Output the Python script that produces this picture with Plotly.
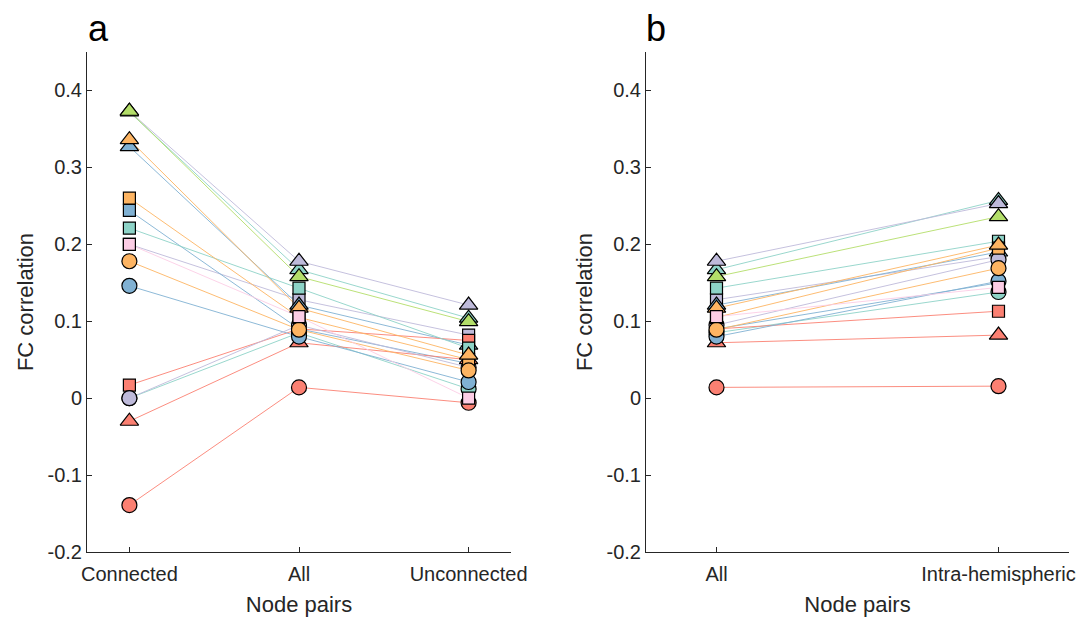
import plotly.graph_objects as go

# ---- data (bottom-to-top drawing order) ----
series_color = ["#8DD3C7", "#BEBADA", "#B3DE69", "#BEBADA", "#80B1D3", "#8DD3C7",
                "#80B1D3", "#FB8072", "#FB8072", "#FB8072", "#80B1D3", "#8DD3C7",
                "#BEBADA", "#FDB462", "#FDB462", "#FDB462", "#FCCDE5"]
series_symbol = ["triangle-up", "triangle-up", "triangle-up", "square", "triangle-up", "circle",
                 "square", "triangle-up", "square", "circle", "circle", "square",
                 "circle", "square", "triangle-up", "circle", "square"]
connected =   [0.372, 0.373, 0.373, 0.200, 0.327, 0.000, 0.244, -0.030, 0.017, -0.139, 0.146, 0.221,
               0.000, 0.260, 0.336, 0.178, 0.200]
all_pairs =   [0.167, 0.178, 0.158, 0.128, 0.121, 0.085, 0.090, 0.072, 0.090, 0.014, 0.080, 0.143,
               0.095, 0.105, 0.117, 0.089, 0.106]
unconnected = [0.104, 0.121, 0.0995, 0.082, 0.069, 0.012, 0.045, 0.050, 0.075, -0.006, 0.021, 0.065,
               0.040, 0.050, 0.056, 0.036, 0.000]
intra =       [0.257, 0.253, 0.236, 0.184, 0.190, 0.138, 0.150, 0.082, 0.113, 0.0156, 0.152, 0.204,
               0.180, 0.195, 0.199, 0.169, 0.144]

cats_a = ["Connected", "All", "Unconnected"]
cats_b = ["All", "Intra-hemispheric"]
y_ticks = [-0.2, -0.1, 0, 0.1, 0.2, 0.3, 0.4]
y_tick_text = ["-0.2", "-0.1", "0", "0.1", "0.2", "0.3", "0.4"]

sizes = {"circle": 15, "square": 12, "triangle-up": 16}
FONT = "Liberation Sans, Arial, Helvetica, sans-serif"
AX = "#262626"

fig = go.Figure()
xa = list(range(1, len(cats_a) + 1))
xb = list(range(1, len(cats_b) + 1))

# lines first
for i, c in enumerate(series_color):
    fig.add_trace(go.Scatter(x=xa, y=[connected[i], all_pairs[i], unconnected[i]],
                             mode="lines", line=dict(color=c, width=0.9),
                             xaxis="x", yaxis="y", showlegend=False, hoverinfo="skip"))
    fig.add_trace(go.Scatter(x=xb, y=[all_pairs[i], intra[i]],
                             mode="lines", line=dict(color=c, width=0.9),
                             xaxis="x2", yaxis="y2", showlegend=False, hoverinfo="skip"))
# markers
for i, c in enumerate(series_color):
    mk = dict(color=c, symbol=series_symbol[i], size=sizes[series_symbol[i]],
              line=dict(color="black", width=1.2))
    fig.add_trace(go.Scatter(x=xa, y=[connected[i], all_pairs[i], unconnected[i]],
                             mode="markers", marker=mk, xaxis="x", yaxis="y", showlegend=False))
    fig.add_trace(go.Scatter(x=xb, y=[all_pairs[i], intra[i]],
                             mode="markers", marker=mk, xaxis="x2", yaxis="y2", showlegend=False))

common_x = dict(showline=True, linecolor=AX, linewidth=1, ticks="inside", ticklen=5,
                tickcolor=AX, showgrid=False, zeroline=False, automargin=False,
                ticklabelstandoff=4,
                tickfont=dict(family=FONT, size=20, color=AX),
                title=dict(text="Node pairs", font=dict(family=FONT, size=22, color=AX), standoff=12))
common_y = dict(showline=True, linecolor=AX, linewidth=1, ticks="inside", ticklen=5,
                tickcolor=AX, showgrid=False, zeroline=False, range=[-0.2, 0.45], automargin=False,
                tickvals=y_ticks, ticktext=y_tick_text,
                tickfont=dict(family=FONT, size=20, color=AX),
                title=dict(text="FC correlation", font=dict(family=FONT, size=22, color=AX), standoff=7))

fig.update_layout(
    width=1085, height=620,
    margin=dict(l=0, r=0, t=0, b=0),
    paper_bgcolor="white", plot_bgcolor="white",
    xaxis=dict(domain=[87/1085, 511/1085], range=[0.75, 3.25], tickvals=xa, ticktext=cats_a,
               anchor="y", **common_x),
    yaxis=dict(domain=[1-552/620, 1-52/620], anchor="x", **common_y),
    xaxis2=dict(domain=[646/1085, 1069/1085], range=[0.75, 2.25], tickvals=xb, ticktext=cats_b,
                anchor="y2", **common_x),
    yaxis2=dict(domain=[1-552/620, 1-52/620], anchor="x2", **common_y),
    annotations=[
        dict(text="a", x=86/1085, y=1-6/620, xref="paper", yref="paper", xanchor="left",
             yanchor="top", showarrow=False, font=dict(family=FONT, size=36, color="black")),
        dict(text="b", x=644/1085, y=1-6/620, xref="paper", yref="paper", xanchor="left",
             yanchor="top", showarrow=False, font=dict(family=FONT, size=36, color="black")),
    ],
)

fig.write_html("out.html")
